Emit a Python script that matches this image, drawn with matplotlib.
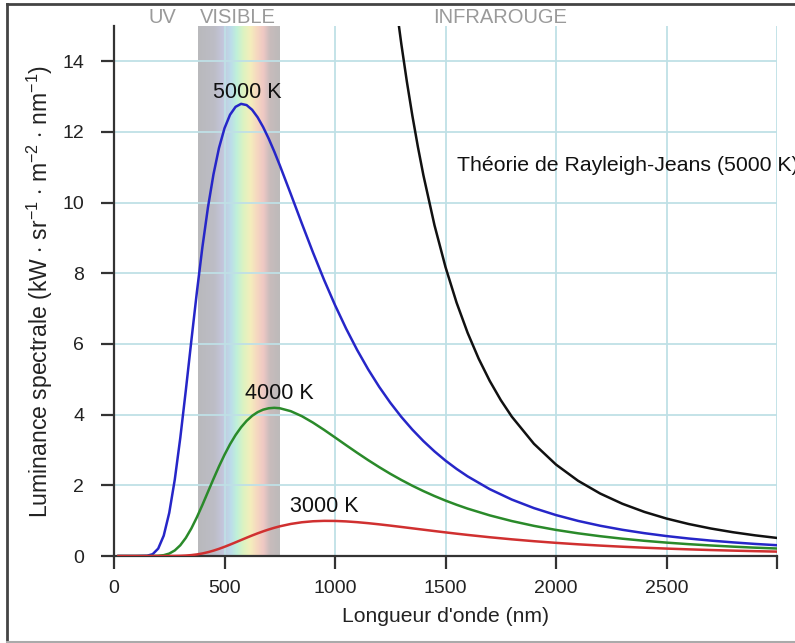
import numpy as np
import matplotlib
matplotlib.use('Agg')
import matplotlib.pyplot as plt
from matplotlib.colors import LinearSegmentedColormap
from matplotlib.lines import Line2D

plt.rcParams['font.family'] = ['Liberation Sans', 'DejaVu Sans']
plt.rcParams['mathtext.fontset'] = 'custom'
plt.rcParams['mathtext.rm'] = 'Liberation Sans'

# longueurs d'onde (nm) et luminances (kW / sr / m2 / nm)
wl = [20, 100, 150, 175, 200, 225, 250, 275, 300, 325, 350, 375, 400, 425, 450, 475,
      500, 525, 550, 575, 600, 625, 650, 675, 700, 725, 750, 800, 850, 900, 950, 1000,
      1050, 1100, 1150, 1200, 1250, 1300, 1350, 1400, 1450, 1500, 1550, 1600, 1700,
      1800, 1900, 2000, 2100, 2200, 2300, 2400, 2500, 2600, 2700, 2800, 2900, 3000]
lum_5000 = [0, 0.0, 0.0073, 0.052, 0.210, 0.576, 1.223, 2.162, 3.347, 4.691,
            6.096, 7.471, 8.743, 9.862, 10.800, 11.547, 12.106, 12.488, 12.712, 12.796,
            12.761, 12.628, 12.414, 12.137, 11.811, 11.449, 11.060, 10.242, 9.409, 8.595,
            7.822, 7.101, 6.438, 5.832, 5.282, 4.786, 4.339, 3.937, 3.576, 3.252,
            2.961, 2.699, 2.465, 2.254, 1.892, 1.597, 1.356, 1.158, 0.993, 0.856,
            0.742, 0.646, 0.564, 0.495, 0.436, 0.386, 0.342, 0.305]
lum_4000 = [0, 0.0, 0.0001, 0.0009, 0.0058, 0.0236, 0.0688, 0.158, 0.304, 0.513,
            0.780, 1.097, 1.446, 1.813, 2.181, 2.535, 2.865, 3.163, 3.423, 3.644,
            3.825, 3.967, 4.072, 4.142, 4.181, 4.194, 4.182, 4.098, 3.957, 3.776,
            3.572, 3.356, 3.137, 2.922, 2.713, 2.515, 2.327, 2.152, 1.988, 1.837,
            1.697, 1.568, 1.450, 1.341, 1.150, 0.989, 0.853, 0.738, 0.642, 0.560,
            0.490, 0.430, 0.379, 0.335, 0.298, 0.265, 0.236, 0.212]
lum_3000 = [0, 0.0, 0.0, 0.0, 0.0, 0.0001, 0.0006, 0.0020, 0.0056, 0.0128,
            0.0254, 0.0448, 0.0722, 0.1079, 0.1518, 0.2030, 0.2602, 0.3220, 0.3865, 0.4521,
            0.5175, 0.5810, 0.6415, 0.6983, 0.7505, 0.7978, 0.8398, 0.9077, 0.9548, 0.9829,
            0.9945, 0.9923, 0.9791, 0.9573, 0.9290, 0.8960, 0.8601, 0.8223, 0.7834, 0.7445,
            0.7060, 0.6683, 0.6318, 0.5967, 0.5310, 0.4719, 0.4190, 0.3721, 0.3309, 0.2946,
            0.2626, 0.2346, 0.2099, 0.1882, 0.1691, 0.1523, 0.1374, 0.1242]

# Rayleigh-Jeans 5000 K
wl_rj = [1250, 1275, 1300, 1325, 1350, 1375, 1400, 1450, 1500, 1550, 1600, 1650, 1700,
         1750, 1800, 1900, 2000, 2100, 2200, 2300, 2400, 2500, 2600, 2700, 2800, 2900, 3000]
lum_rj = [16.953, 15.662, 14.492, 13.429, 12.461, 11.579, 10.774, 9.363, 8.176, 7.171,
          6.316, 5.584, 4.956, 4.413, 3.943, 3.176, 2.587, 2.128, 1.767, 1.479, 1.2475,
          1.0596, 0.9057, 0.7788, 0.6734, 0.5852, 0.5110]

visible = (380, 750)
x_ticks = [0, 500, 1000, 1500, 2000, 2500, 3000]
x_labels = ['0', '500', '1000', '1500', '2000', '2500', '']
y_ticks = [0, 2, 4, 6, 8, 10, 12, 14]

fig = plt.figure(figsize=(7.95, 6.43), dpi=100)
ax = fig.add_axes([0.1434, 0.1353, 0.834, 0.8243])

# bande du visible
band = LinearSegmentedColormap.from_list('band', [
    (0.00, '#b9b9bc'), (0.20, '#bdbdc6'), (0.30, '#c4c6dc'), (0.40, '#bcdcea'),
    (0.47, '#bff0da'), (0.56, '#def3c0'), (0.64, '#f4eebc'), (0.72, '#f6d8c0'),
    (0.80, '#eec8c4'), (0.88, '#c8bcbc'), (1.00, '#bdbaba')])
ax.imshow(np.linspace(0, 1, 256).reshape(1, -1), cmap=band, aspect='auto',
          extent=[visible[0], visible[1], 0, 15], zorder=0, interpolation='bilinear')

ax.plot(wl_rj, lum_rj, color='#111111', lw=1.8, zorder=3)
ax.plot(wl, lum_5000, color='#2626c8', lw=1.8, zorder=3)
ax.plot(wl, lum_4000, color='#2a8a2a', lw=1.8, zorder=3)
ax.plot(wl, lum_3000, color='#d03030', lw=1.8, zorder=3)

ax.set_xlim(0, 3000)
ax.set_ylim(0, 15)
ax.set_xticks(x_ticks)
ax.set_xticklabels(x_labels)
ax.set_yticks(y_ticks)
ax.grid(color='#bfe0e6', lw=1.3)
ax.set_axisbelow(True)
for s in ['top', 'right']:
    ax.spines[s].set_visible(False)
for s in ['left', 'bottom']:
    ax.spines[s].set_color('#333333')
    ax.spines[s].set_linewidth(1.6)
ax.tick_params(axis='both', length=9.5, width=1.6, color='#333333', labelsize=14,
               labelcolor='#222222')
ax.tick_params(axis='y', pad=12)
ax.tick_params(axis='x', pad=8)

ax.set_xlabel("Longueur d'onde (nm)", fontsize=15.2, color='#222222', labelpad=7)
ax.set_ylabel(r'Luminance spectrale (kW $\cdot$ sr$^{\mathregular{-1}}$ $\cdot$ '
              r'm$^{\mathregular{-2}}$ $\cdot$ nm$^{\mathregular{-1}}$)',
              fontsize=16.6, color='#222222', labelpad=5)

ax.text(601, 13.13, '5000 K', fontsize=15.5, ha='center', va='center', color='#111111')
ax.text(750, 4.61, '4000 K', fontsize=15.5, ha='center', va='center', color='#111111')
ax.text(953, 1.41, '3000 K', fontsize=15.5, ha='center', va='center', color='#111111')
ax.text(1550, 11.05, 'Théorie de Rayleigh-Jeans (5000 K)', fontsize=15.3, ha='left',
        va='center', color='#111111', clip_on=False)

for txt, xpos in [('UV', 221), ('VISIBLE', 560), ('INFRAROUGE', 1745)]:
    ax.text(xpos, 15.25, txt, fontsize=14.5, ha='center', va='center',
            color='#9a9a9a', clip_on=False)

# cadre de l'image
fig.add_artist(Line2D([0.0094, 1.0], [0.9935, 0.9935], color='#444444', lw=2.0))
fig.add_artist(Line2D([0.0094, 0.0094], [0.0015, 0.9935], color='#444444', lw=2.0))
fig.add_artist(Line2D([0.0094, 1.0], [0.0015, 0.0015], color='#aaaaaa', lw=1.5))

fig.savefig('out.png', dpi=100)
